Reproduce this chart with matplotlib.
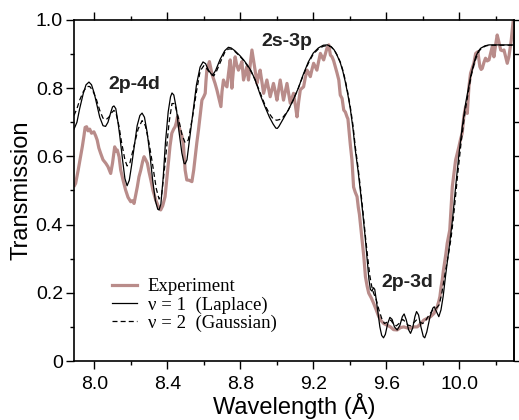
import matplotlib
matplotlib.use("Agg")
import matplotlib.pyplot as plt
from matplotlib.ticker import MultipleLocator, FixedLocator

# ---------------- data ----------------
lap_x = [7.889, 7.905, 7.92, 7.94, 7.955, 7.971, 7.985, 8.0, 8.015, 8.03, 8.048, 8.062, 8.075, 8.09, 8.1,
         8.108, 8.118, 8.13, 8.14, 8.155, 8.168, 8.18, 8.192, 8.205, 8.218, 8.235, 8.25, 8.262, 8.275, 8.29,
         8.306, 8.32, 8.335, 8.348, 8.355, 8.365, 8.378, 8.39, 8.405, 8.418, 8.426, 8.436, 8.45, 8.465, 8.48,
         8.492, 8.498, 8.508, 8.52, 8.541, 8.56, 8.58, 8.596, 8.61, 8.624, 8.64, 8.651, 8.665, 8.69, 8.715,
         8.735, 8.75, 8.77, 8.799, 8.82, 8.843, 8.86, 8.881, 8.91, 8.936, 8.96, 8.98, 8.995, 9.003, 9.012,
         9.03, 9.063, 9.09, 9.118, 9.145, 9.173, 9.2, 9.228, 9.255, 9.277, 9.298, 9.315, 9.33, 9.348, 9.362,
         9.375, 9.39, 9.403, 9.418, 9.43, 9.445, 9.458, 9.472, 9.485, 9.497, 9.505, 9.513, 9.522, 9.53, 9.537,
         9.545, 9.555, 9.565, 9.575, 9.585, 9.595, 9.608, 9.62, 9.632, 9.645, 9.66, 9.675, 9.688, 9.698, 9.71,
         9.722, 9.733, 9.745, 9.757, 9.766, 9.777, 9.79, 9.803, 9.811, 9.822, 9.84, 9.855, 9.863, 9.875, 9.888,
         9.9, 9.912, 9.925, 9.944, 9.962, 9.98, 9.998, 10.016, 10.035, 10.05, 10.062, 10.076, 10.09, 10.104,
         10.117, 10.14, 10.163, 10.30]
lap_y = [0.68, 0.70, 0.74, 0.785, 0.81, 0.818, 0.81, 0.785, 0.75, 0.715, 0.69, 0.688, 0.70, 0.728, 0.745,
         0.748, 0.74, 0.70, 0.66, 0.59, 0.535, 0.514, 0.53, 0.575, 0.625, 0.69, 0.72, 0.727, 0.715, 0.67,
         0.60, 0.53, 0.47, 0.445, 0.443, 0.46, 0.54, 0.64, 0.73, 0.775, 0.786, 0.78, 0.74, 0.67, 0.61,
         0.58, 0.578, 0.59, 0.64, 0.73, 0.81, 0.862, 0.877, 0.872, 0.855, 0.842, 0.84, 0.852, 0.885, 0.91,
         0.92, 0.918, 0.91, 0.895, 0.882, 0.865, 0.85, 0.825, 0.78, 0.745, 0.715, 0.695, 0.683, 0.682, 0.688,
         0.705, 0.736, 0.765, 0.80, 0.84, 0.877, 0.903, 0.918, 0.926, 0.927, 0.922, 0.912, 0.897, 0.875, 0.85,
         0.82, 0.78, 0.74, 0.68, 0.62, 0.56, 0.50, 0.43, 0.36, 0.29, 0.24, 0.21, 0.205, 0.215, 0.21,
         0.18, 0.14, 0.10, 0.075, 0.068, 0.078, 0.11, 0.128, 0.122, 0.10, 0.091, 0.105, 0.13, 0.138, 0.12,
         0.092, 0.081, 0.097, 0.13, 0.145, 0.135, 0.10, 0.072, 0.068, 0.085, 0.13, 0.155, 0.159, 0.145, 0.13,
         0.15, 0.19, 0.25, 0.33, 0.41, 0.51, 0.605, 0.685, 0.756, 0.80, 0.834, 0.865, 0.892, 0.908,
         0.917, 0.924, 0.927, 0.927]

gau_x = [7.889, 7.905, 7.92, 7.94, 7.96, 7.975, 7.99, 8.01, 8.03, 8.048, 8.065, 8.08, 8.095, 8.108, 8.12,
         8.135, 8.15, 8.168, 8.18, 8.195, 8.215, 8.24, 8.262, 8.28, 8.3, 8.32, 8.34, 8.355, 8.37, 8.39,
         8.41, 8.426, 8.44, 8.46, 8.48, 8.498, 8.515, 8.54, 8.56, 8.58, 8.6, 8.62, 8.64, 8.655, 8.67,
         8.69, 8.715, 8.735, 8.75, 8.77, 8.799, 8.82, 8.843, 8.86, 8.881, 8.91, 8.936, 8.96, 8.98, 9.0,
         9.015, 9.03, 9.063, 9.09, 9.118, 9.145, 9.173, 9.2, 9.228, 9.255, 9.277, 9.298, 9.315, 9.33, 9.348,
         9.362, 9.375, 9.39, 9.403, 9.418, 9.43, 9.445, 9.458, 9.472, 9.485, 9.497, 9.51, 9.52, 9.53, 9.545,
         9.56, 9.575, 9.59, 9.61, 9.625, 9.64, 9.655, 9.67, 9.69, 9.705, 9.72, 9.735, 9.75, 9.765, 9.78,
         9.8, 9.815, 9.835, 9.855, 9.875, 9.89, 9.905, 9.92, 9.94, 9.955, 9.97, 9.99, 10.01, 10.03, 10.05,
         10.065, 10.08, 10.095, 10.11, 10.125, 10.145, 10.165, 10.30]
gau_y = [0.72, 0.74, 0.765, 0.79, 0.805, 0.805, 0.795, 0.77, 0.735, 0.712, 0.708, 0.715, 0.728, 0.735, 0.725,
         0.69, 0.64, 0.59, 0.572, 0.58, 0.625, 0.68, 0.705, 0.69, 0.64, 0.575, 0.505, 0.475, 0.49, 0.59,
         0.70, 0.755, 0.755, 0.715, 0.665, 0.64, 0.648, 0.72, 0.79, 0.85, 0.866, 0.855, 0.84, 0.836, 0.85,
         0.875, 0.905, 0.915, 0.915, 0.908, 0.893, 0.88, 0.863, 0.848, 0.825, 0.785, 0.75, 0.725, 0.71, 0.706,
         0.708, 0.712, 0.735, 0.765, 0.80, 0.838, 0.873, 0.90, 0.915, 0.923, 0.925, 0.921, 0.912, 0.898, 0.877,
         0.853, 0.825, 0.785, 0.745, 0.69, 0.63, 0.57, 0.51, 0.44, 0.37, 0.31, 0.25, 0.22, 0.20, 0.18,
         0.15, 0.125, 0.11, 0.115, 0.12, 0.108, 0.103, 0.11, 0.122, 0.115, 0.105, 0.103, 0.112, 0.12, 0.115,
         0.11, 0.118, 0.135, 0.15, 0.155, 0.165, 0.20, 0.25, 0.31, 0.36, 0.43, 0.54, 0.64, 0.725, 0.79,
         0.835, 0.868, 0.893, 0.91, 0.918, 0.924, 0.926, 0.926]

exp_x = [7.892, 7.898, 7.912, 7.925, 7.935, 7.943, 7.95, 7.958, 7.966, 7.975, 7.985, 7.998, 8.008, 8.016,
         8.025, 8.035, 8.048, 8.063, 8.075, 8.09, 8.1, 8.112, 8.12, 8.126, 8.136, 8.145, 8.158, 8.172, 8.185,
         8.2, 8.21, 8.218, 8.228, 8.236, 8.245, 8.255, 8.265, 8.273, 8.282, 8.291, 8.3, 8.31, 8.322, 8.337,
         8.35, 8.364, 8.375, 8.388, 8.397, 8.406, 8.415, 8.425, 8.435, 8.443, 8.45, 8.456, 8.463, 8.47, 8.48,
         8.488, 8.494, 8.498, 8.507, 8.52, 8.535, 8.545, 8.553, 8.562, 8.571, 8.58, 8.59, 8.6, 8.608, 8.612,
         8.617, 8.624, 8.631, 8.638, 8.644, 8.652, 8.662, 8.672, 8.681, 8.688, 8.694, 8.7, 8.708, 8.718, 8.727,
         8.736, 8.745, 8.754, 8.762, 8.772, 8.78, 8.79, 8.8, 8.809, 8.818, 8.827, 8.836, 8.845, 8.855, 8.864,
         8.872, 8.878, 8.885, 8.891, 8.9, 8.909, 8.918, 8.928, 8.937, 8.946, 8.955, 8.964, 8.973, 8.982, 8.992,
         9.001, 9.01, 9.019, 9.028, 9.037, 9.047, 9.056, 9.065, 9.074, 9.083, 9.092, 9.102, 9.111, 9.12, 9.129,
         9.138, 9.147, 9.156, 9.166, 9.175, 9.184, 9.193, 9.202, 9.211, 9.22, 9.23, 9.239, 9.248, 9.257, 9.266,
         9.275, 9.285, 9.294, 9.303, 9.312, 9.321, 9.33, 9.34, 9.348, 9.358, 9.367, 9.376, 9.385, 9.39, 9.397,
         9.403, 9.412, 9.421, 9.43, 9.44, 9.447, 9.453, 9.458, 9.467, 9.477, 9.486, 9.495, 9.504, 9.518, 9.531,
         9.545, 9.559, 9.572, 9.586, 9.605, 9.623, 9.64, 9.66, 9.678, 9.696, 9.715, 9.733, 9.75, 9.77, 9.79,
         9.806, 9.825, 9.843, 9.862, 9.879, 9.888, 9.894, 9.9, 9.907, 9.913, 9.919, 9.927, 9.934, 9.941, 9.948,
         9.955, 9.962, 9.971, 9.98, 9.99, 9.998, 10.007, 10.016, 10.025, 10.035, 10.044, 10.053, 10.062, 10.072,
         10.08, 10.09, 10.102, 10.113, 10.12, 10.126, 10.135, 10.144, 10.153, 10.163, 10.172, 10.181, 10.19,
         10.2, 10.208, 10.217, 10.227, 10.236, 10.245, 10.255, 10.263, 10.272, 10.285, 10.296]
exp_y = [0.515, 0.521, 0.56, 0.599, 0.63, 0.658, 0.685, 0.687, 0.675, 0.68, 0.668, 0.672, 0.66, 0.648,
         0.625, 0.609, 0.59, 0.580, 0.57, 0.55, 0.58, 0.628, 0.615, 0.619, 0.599, 0.56, 0.53, 0.501, 0.48,
         0.467, 0.47, 0.462, 0.49, 0.511, 0.54, 0.56, 0.585, 0.599, 0.59, 0.58, 0.555, 0.531, 0.50, 0.472,
         0.455, 0.443, 0.455, 0.482, 0.53, 0.58, 0.63, 0.668, 0.68, 0.687, 0.70, 0.716, 0.69, 0.677, 0.66,
         0.638, 0.59, 0.56, 0.531, 0.53, 0.526, 0.56, 0.599, 0.64, 0.677, 0.72, 0.765, 0.775, 0.785, 0.82,
         0.853, 0.865, 0.878, 0.86, 0.844, 0.83, 0.814, 0.795, 0.775, 0.76, 0.746, 0.79, 0.824, 0.81, 0.804,
         0.845, 0.883, 0.80, 0.85, 0.892, 0.87, 0.853, 0.865, 0.878, 0.824, 0.844, 0.863, 0.824, 0.87, 0.912,
         0.885, 0.863, 0.84, 0.814, 0.835, 0.853, 0.82, 0.785, 0.805, 0.824, 0.80, 0.775, 0.795, 0.814, 0.79,
         0.765, 0.795, 0.824, 0.795, 0.765, 0.79, 0.814, 0.785, 0.756, 0.77, 0.785, 0.75, 0.716, 0.76, 0.795,
         0.80, 0.804, 0.83, 0.853, 0.845, 0.834, 0.855, 0.873, 0.863, 0.853, 0.88, 0.902, 0.892, 0.883, 0.90,
         0.917, 0.927, 0.897, 0.892, 0.88, 0.863, 0.845, 0.824, 0.78, 0.77, 0.736, 0.73, 0.716, 0.71, 0.67,
         0.635, 0.59, 0.51, 0.495, 0.482, 0.45, 0.43, 0.404, 0.355, 0.306, 0.247, 0.22, 0.199, 0.185, 0.169,
         0.15, 0.13, 0.118, 0.11, 0.105, 0.10, 0.092, 0.091, 0.098, 0.10, 0.097, 0.096, 0.10, 0.10, 0.11,
         0.12, 0.125, 0.13, 0.14, 0.159, 0.175, 0.189, 0.215, 0.238, 0.265, 0.287, 0.315, 0.345, 0.365, 0.384,
         0.45, 0.511, 0.55, 0.589, 0.61, 0.628, 0.65, 0.668, 0.716, 0.746, 0.726, 0.804, 0.844, 0.86,
         0.873, 0.902, 0.907, 0.863, 0.855, 0.858, 0.875, 0.888, 0.88, 0.883, 0.902, 0.922, 0.892,
         0.93, 0.956, 0.936, 0.912, 0.91, 0.912, 0.89, 0.873, 0.892, 0.941, 1.0]

x_ticks = [8.0, 8.4, 8.8, 9.2, 9.6, 10.0]
y_ticks = [0, 0.2, 0.4, 0.6, 0.8, 1.0]
y_ticklabels = ["0", "0.2", "0.4", "0.6", "0.8", "1.0"]
legend_labels = ["Experiment", "\u03bd = 1  (Laplace)", "\u03bd = 2  (Gaussian)"]
line_labels = ["2p-4d", "2s-3p", "2p-3d"]
line_label_pos = [(8.218, 0.81), (9.057, 0.938), (9.715, 0.229)]

# ---------------- plot ----------------
SANS = "Liberation Sans"
SERIF = "Liberation Serif"
exp_color = "#b98c8a"

fig = plt.figure(figsize=(5.19, 4.20), dpi=100)
ax = fig.add_axes([74 / 519, 59 / 420, 440 / 519, 341 / 420])

h_exp, = ax.plot(exp_x, exp_y, color=exp_color, lw=2.3, solid_joinstyle="round", zorder=2)
h_gau, = ax.plot(gau_x, gau_y, color="black", lw=0.9, dashes=(4, 2.5), zorder=3)
h_lap, = ax.plot(lap_x, lap_y, color="black", lw=0.9, zorder=4)

ax.set_xlim(7.889, 10.30)
ax.set_ylim(0, 1.0)

ax.set_xticks(x_ticks)
ax.set_xticklabels([f"{v:.1f}" for v in x_ticks])
ax.xaxis.set_minor_locator(MultipleLocator(0.2))
ax.set_yticks(y_ticks)
ax.set_yticklabels(y_ticklabels)
ax.yaxis.set_minor_locator(MultipleLocator(0.1))

for lab in ax.get_xticklabels() + ax.get_yticklabels():
    lab.set_fontfamily(SANS)
    lab.set_fontsize(14)

ax.tick_params(axis="x", which="both", direction="out", top=True, bottom=True, width=1, color="black")
ax.tick_params(axis="x", which="major", length=6, pad=5)
ax.tick_params(axis="x", which="minor", length=3)
ax.tick_params(axis="y", which="both", direction="out", left=True, right=False, width=1)
ax.tick_params(axis="y", which="major", length=6, pad=2)
ax.tick_params(axis="y", which="minor", length=3)

sec = ax.secondary_yaxis("right")
sec.yaxis.set_major_locator(MultipleLocator(0.1))
sec.tick_params(direction="out", length=3.5, width=1, labelright=False)
sec.spines["right"].set_linewidth(1.2)

for s in ax.spines.values():
    s.set_linewidth(1.2)

ax.set_xlabel("Wavelength (\u00c5)", fontfamily=SANS, fontsize=17, labelpad=0)
ax.set_ylabel("Transmission", fontfamily=SANS, fontsize=17, labelpad=2)

for txt, (tx, ty) in zip(line_labels, line_label_pos):
    ax.text(tx, ty, txt, fontfamily=SANS, fontweight="bold", fontsize=14,
            ha="center", va="center", color="#222222", zorder=5)

leg = ax.legend([h_exp, h_lap, h_gau], legend_labels, loc="upper left",
                bbox_to_anchor=(0.07, 0.265), frameon=False, handlelength=1.3,
                handletextpad=0.6, labelspacing=0.05, borderaxespad=0,
                prop={"family": SERIF, "size": 13.5})

fig.savefig("out.png", dpi=100)
